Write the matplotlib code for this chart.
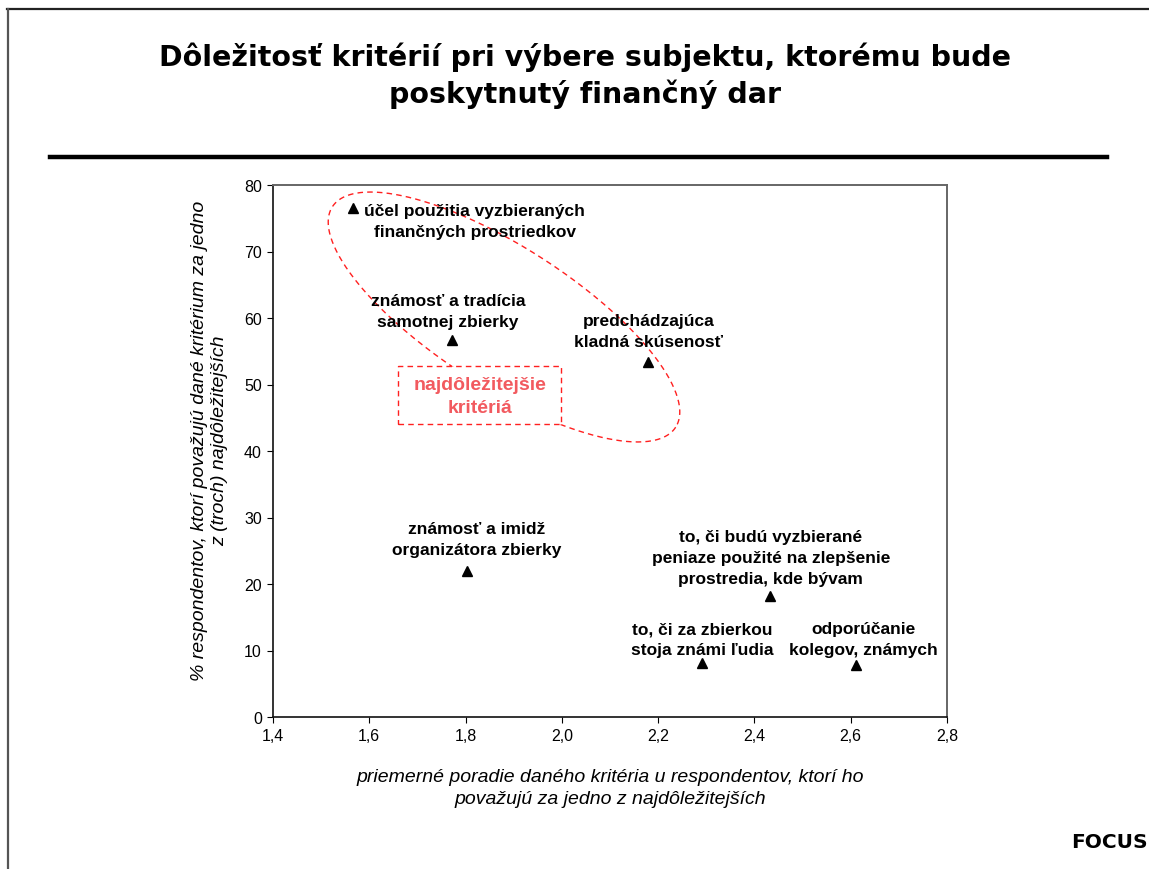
import numpy as np
import matplotlib
matplotlib.use("Agg")
import matplotlib.pyplot as plt
from matplotlib.lines import Line2D
from matplotlib.patches import Rectangle

# ---- data ----
labels = [
    "účel použitia vyzbieraných\nfinančných prostriedkov",
    "známosť a tradícia\nsamotnej zbierky",
    "predchádzajúca\nkladná skúsenosť",
    "známosť a imidž\norganizátora zbierky",
    "to, či budú vyzbierané\npeniaze použité na zlepšenie\nprostredia, kde bývam",
    "to, či za zbierkou\nstoja známi ľudia",
    "odporúčanie\nkolegov, známych",
]
avg_rank = [1.566, 1.772, 2.178, 1.804, 2.432, 2.292, 2.611]
pct_resp = [76.5, 56.7, 53.4, 22.0, 18.2, 8.1, 7.8]
x_ticks = [1.4, 1.6, 1.8, 2.0, 2.2, 2.4, 2.6, 2.8]
y_ticks = [0, 10, 20, 30, 40, 50, 60, 70, 80]

# label offsets in pixels (dx, dy up) from the point
label_offsets = [(122, -12.5), (-4, 29), (1, 31), (9, 32), (1, 38), (0, 24), (7, 26)]

W, H = 1149, 870
fig = plt.figure(figsize=(W / 100, H / 100), dpi=100)
fig.patch.set_facecolor("white")

def fx(px):
    return px / W

def fy(py):
    return 1 - py / H

# outer frame (partly off-canvas)
fig.add_artist(Line2D([fx(7), fx(1160)], [fy(9.5), fy(9.5)], color="#222222", lw=1.6))
fig.add_artist(Line2D([fx(7.5), fx(7.5)], [fy(9.5), fy(880)], color="#555555", lw=1.6))

# title
fig.text(fx(585), fy(76), "Dôležitosť kritérií pri výbere subjektu, ktorému bude\nposkytnutý finančný dar",
         ha="center", va="center", fontsize=20.5, fontweight="bold", family="DejaVu Sans",
         linespacing=1.33)
# rule
fig.add_artist(Line2D([fx(50), fx(1107)], [fy(158), fy(158)], color="black", lw=3.2))

# FOCUS
fig.text(fx(1071), fy(843), "FOCUS", ha="left", va="center", fontsize=14.5,
         fontweight="bold", family="DejaVu Sans")

ax = fig.add_axes([fx(273), fy(718), fx(947) - fx(273), fy(186) - fy(718)])
ax.set_xlim(1.4, 2.8)
ax.set_ylim(0, 80)
ax.set_xticks(x_ticks)
ax.set_xticklabels([f"{t:.1f}".replace(".", ",") for t in x_ticks], fontsize=11.5, family="Liberation Sans")
ax.set_yticks(y_ticks)
ax.set_yticklabels([str(t) for t in y_ticks], fontsize=11.5, family="Liberation Sans")
ax.tick_params(direction="out", length=4, width=0.8, colors="black", pad=4)
for s in ["left", "bottom"]:
    ax.spines[s].set_color("#111111")
    ax.spines[s].set_linewidth(1.2)
for s in ["top", "right"]:
    ax.spines[s].set_color("#666666")
    ax.spines[s].set_linewidth(1.4)

ax.plot(avg_rank, pct_resp, linestyle="none", marker="^", color="black", markersize=6.5, zorder=5)

for lab, x, y, (dx, dy) in zip(labels, avg_rank, pct_resp, label_offsets):
    ax.annotate(lab, (x, y), xytext=(dx * 0.72, dy * 0.72), textcoords="offset points",
                ha="center", va="center", multialignment="center", fontsize=12.5,
                fontweight="bold", family="Liberation Sans", linespacing=1.5, zorder=6)

ax.set_xlabel("priemerné poradie daného kritéria u respondentov, ktorí ho\npovažujú za jedno z najdôležitejších",
              fontsize=14, style="italic", family="Liberation Sans", labelpad=18, linespacing=1.37)
ax.set_ylabel("% respondentov, ktorí považujú dané kritérium za jedno\nz (troch) najdôležitejších",
              fontsize=14, style="italic", family="Liberation Sans", labelpad=11.5, linespacing=1.22)
ax.yaxis.label.set_y((718 - 441) / (718 - 186))

# dashed ellipse (annotation shape) in pixel space
cx, cy, a, b, phi = 504, 318, 204, 70, np.deg2rad(32.7)
t = np.linspace(0, 2 * np.pi, 400)
ex = cx + a * np.cos(t) * np.cos(phi) - b * np.sin(t) * np.sin(phi)
ey = cy + a * np.cos(t) * np.sin(phi) + b * np.sin(t) * np.cos(phi)
ax.plot(fx(ex), fy(ey), transform=fig.transFigure, color="#FF2020", lw=1.0,
        linestyle=(0, (4, 3)), clip_on=False, zorder=3)

# dashed box with label
box = Rectangle((fx(398), fy(425)), fx(561) - fx(398), fy(367) - fy(425), transform=fig.transFigure,
                facecolor="white", edgecolor="#FF2020", lw=1.0, linestyle=(0, (4, 3)), zorder=4)
ax.add_patch(box)
ax.text(fx(480), fy(397), "najdôležitejšie\nkritériá", transform=fig.transFigure, ha="center",
        va="center", color="#F25A5F", fontsize=14, fontweight="bold", family="Liberation Sans",
        linespacing=1.4, zorder=5)

fig.savefig("out.png", dpi=100, facecolor="white")
